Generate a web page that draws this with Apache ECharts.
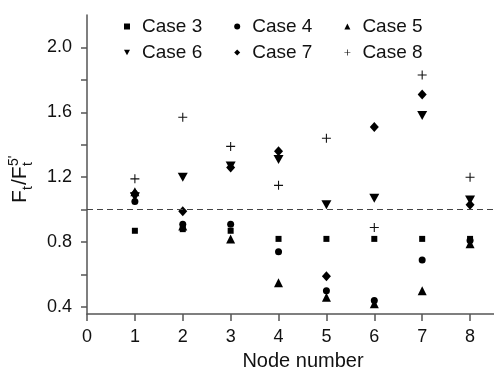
<!DOCTYPE html>
<html>
<head>
<meta charset="utf-8">
<script src="https://cdn.jsdelivr.net/npm/echarts@6/dist/echarts.min.js"></script>
<style>html,body{margin:0;padding:0;background:#fff}#c{width:494px;height:378px}</style>
</head>
<body>
<div id="c"></div>
<script>
var nodes = [1, 2, 3, 4, 5, 6, 7, 8];
var case3 = [0.87, 0.88, 0.87, 0.82, 0.82, 0.82, 0.82, 0.82];
var case4 = [1.05, 0.91, 0.91, 0.74, 0.50, 0.44, 0.69, 0.81];
var case5 = [1.11, 0.90, 0.82, 0.55, 0.46, 0.42, 0.50, 0.79];
var case6 = [1.08, 1.20, 1.27, 1.31, 1.03, 1.07, 1.58, 1.06];
var case7 = [1.10, 0.99, 1.26, 1.36, 0.59, 1.51, 1.71, 1.03];
var case8 = [1.19, 1.57, 1.39, 1.15, 1.44, 0.89, 1.83, 1.20];
var xTicks = [0, 1, 2, 3, 4, 5, 6, 7, 8];
var yTicks = [0.4, 0.6, 0.8, 1.0, 1.2, 1.4, 1.6, 1.8, 2.0];
var yLabels = [0.4, 0.8, 1.2, 1.6, 2.0];
var refLine = 1.0;

var FONT = '"Liberation Sans", Arial, sans-serif';
var AX = '#555';
var plusPath = 'path://M4.4,0H5.6V4.4H10V5.6H5.6V10H4.4V5.6H0V4.4H4.4Z';
var invTri = 'path://M0,0L10,0L5,9Z';

function pts(arr) { return arr.map(function (v, i) { return [nodes[i], v]; }); }
function ser(name, arr, symbol, size, color) {
  return { name: name, type: 'scatter', data: pts(arr), symbol: symbol, symbolSize: size,
    itemStyle: { color: color || '#000', opacity: 1 }, emphasis: { disabled: true }, z: 3 };
}
var series = [
  ser('Case 3', case3, 'rect', 6),
  ser('Case 4', case4, 'circle', 7),
  ser('Case 5', case5, 'triangle', 9),
  ser('Case 6', case6, invTri, [10, 9]),
  ser('Case 7', case7, 'diamond', [9, 10]),
  ser('Case 8', case8, plusPath, 9, '#111')
];
series[0].markLine = {
  silent: true, symbol: 'none', label: { show: false },
  lineStyle: { color: '#444', type: [6, 4], width: 1.2 },
  data: [{ yAxis: refLine }]
};

var legendText = { fontFamily: FONT, fontSize: 19, color: '#111', width: 70, padding: [0, 0, 0, 7] };
var chart = echarts.init(document.getElementById('c'), null, { renderer: 'canvas' });
chart.setOption({
  animation: false,
  backgroundColor: '#fff',
  grid: { left: 87, right: 0, top: 15, bottom: 64 },
  legend: [
    { data: ['Case 3', 'Case 4', 'Case 5'], left: 119, top: 12, itemWidth: 6, itemHeight: 6,
      itemGap: 32, textStyle: legendText, selectedMode: false },
    { data: ['Case 6', 'Case 7', 'Case 8'], left: 119, top: 38, itemWidth: 6, itemHeight: 6,
      itemGap: 32, textStyle: legendText, selectedMode: false }
  ],
  xAxis: {
    type: 'value', min: 0, max: 8.5,
    name: 'Node number', nameLocation: 'middle', nameGap: 37,
    nameTextStyle: { fontFamily: FONT, fontSize: 20, color: '#111', padding: [0, 0, 0, 25] },
    axisLine: { lineStyle: { color: AX, width: 1.5 } },
    axisTick: { customValues: xTicks, length: 7, lineStyle: { color: AX, width: 1.5 } },
    axisLabel: { customValues: xTicks, fontFamily: FONT, fontSize: 18, color: '#111', margin: 14 },
    splitLine: { show: false }
  },
  yAxis: {
    type: 'value', min: 0.357, max: 2.2,
    axisLine: { show: true, lineStyle: { color: AX, width: 1.5 } },
    axisTick: { show: true, customValues: yTicks, length: 6, lineStyle: { color: AX, width: 1.5 } },
    axisLabel: { customValues: yLabels, fontFamily: FONT, fontSize: 18, color: '#111', margin: 15,
      formatter: function (v) { return v.toFixed(1); } },
    splitLine: { show: false }
  },
  graphic: [{
    type: 'group', x: 31, y: 203, rotation: Math.PI / 2,
    children: [
      { type: 'text', x: 0, y: 0, style: { text: 'F', font: '21px ' + FONT, fill: '#111', textVerticalAlign: 'bottom' } },
      { type: 'text', x: 13, y: 4, style: { text: 't', font: '14px ' + FONT, fill: '#111', textVerticalAlign: 'bottom' } },
      { type: 'text', x: 18, y: 0, style: { text: '/F', font: '21px ' + FONT, fill: '#111', textVerticalAlign: 'bottom' } },
      { type: 'text', x: 37, y: 4, style: { text: 't', font: '14px ' + FONT, fill: '#111', textVerticalAlign: 'bottom' } },
      { type: 'text', x: 37, y: -10, style: { text: "5'", font: '14px ' + FONT, fill: '#111', textVerticalAlign: 'bottom' } }
    ]
  }],
  series: series
});
</script>
</body>
</html>
